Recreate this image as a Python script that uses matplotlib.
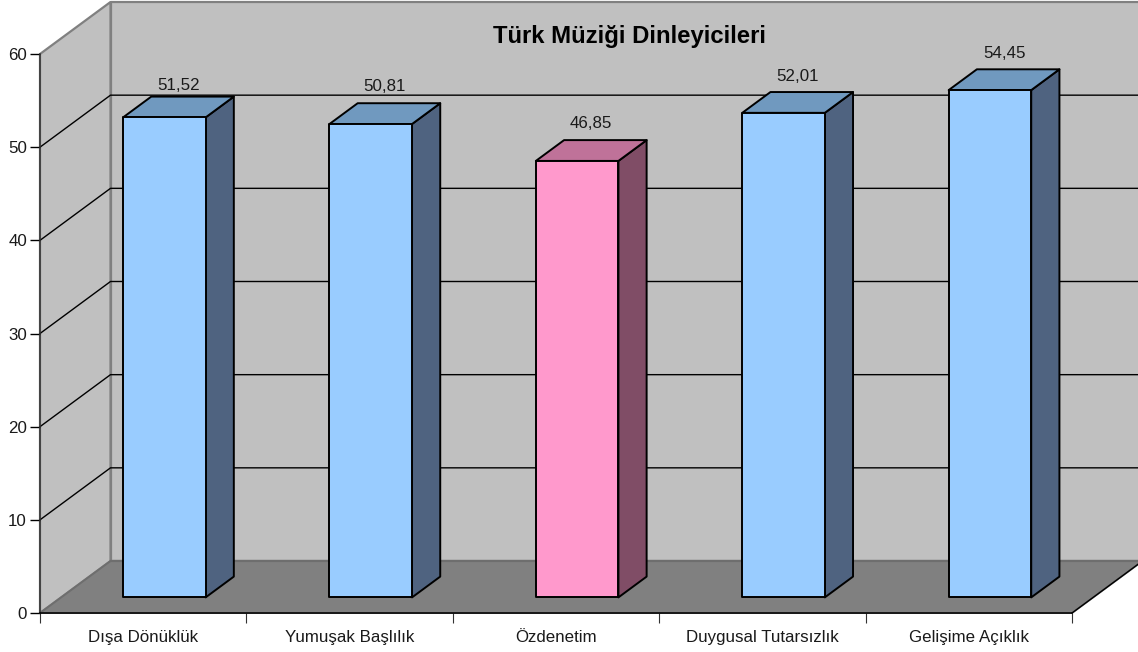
import matplotlib
matplotlib.use("Agg")
import matplotlib.pyplot as plt
from matplotlib.patches import Polygon

plt.rcParams["font.family"] = ["Liberation Sans", "DejaVu Sans"]

categories = ["Dışa Dönüklük", "Yumuşak Başlılık", "Özdenetim",
              "Duygusal Tutarsızlık", "Gelişime Açıklık"]
values = [51.52, 50.81, 46.85, 52.01, 54.45]
value_labels = ["51,52", "50,81", "46,85", "52,01", "54,45"]
label_gaps = [11, 17, 17, 15, 16]
bar_colors = [("#99CCFF", "#7099BF", "#4F6380"),
              ("#99CCFF", "#7099BF", "#4F6380"),
              ("#FF99CC", "#BF7299", "#804D66"),
              ("#99CCFF", "#7099BF", "#4F6380"),
              ("#99CCFF", "#7099BF", "#4F6380")]
y_ticks = [0, 10, 20, 30, 40, 50, 60]

W, H = 1138, 652
# plot front plane in pixels
X0, X1, Y0, Y1 = 40, 1072, 613, 54
DEPTH_X, DEPTH_Y = 70.5, 52

fig = plt.figure(figsize=(W / 100, H / 100), dpi=100)
ax = fig.add_axes([X0 / W, 1 - Y0 / H, (X1 - X0) / W, (Y0 - Y1) / H])
ax.set_xlim(0, 5)
ax.set_ylim(0, 60)
ax.patch.set_visible(False)

ux = (X1 - X0) / 5
uy = (Y0 - Y1) / 60


def pt(x, y, d=0.0):
    # d is the depth fraction: 0 at the front plane, 1 at the back wall
    return (x + d * DEPTH_X / ux, y + d * DEPTH_Y / uy)


def face(corners, color, edge="black", lw=1.4, z=2):
    ax.add_patch(Polygon(corners, closed=True, facecolor=color, edgecolor=edge,
                         linewidth=lw, joinstyle="round", clip_on=False, zorder=z))


xmax = (W - X0) / ux + 0.1

# walls and floor
face([pt(0, 0, 1), pt(xmax, 0, 1), pt(xmax, 60, 1), pt(0, 60, 1)], "#C0C0C0", "#808080", 1.6, 1)
face([pt(0, 0, 0), pt(0, 0, 1), pt(0, 60, 1), pt(0, 60, 0)], "#C0C0C0", "#808080", 1.6, 1)
face([pt(0, 0, 0), pt(5, 0, 0), pt(5, 0, 1), pt(0, 0, 1)], "#808080", "#6E6E6E", 1.4, 1)
ax.plot(*zip(pt(5, 0, 0), pt(5, 0, 1)), color="black", lw=1, clip_on=False, zorder=1.5)
ax.plot(*zip(pt(0, 0, 1), pt(xmax, 0, 1)), color="#6E6E6E", lw=1.6, clip_on=False, zorder=1.5)

# grid lines on the side and back walls
for v in y_ticks[1:-1]:
    ax.plot(*zip(pt(0, v, 0), pt(0, v, 1), pt(xmax, v, 1)), color="black", lw=1,
            clip_on=False, zorder=1.5)

# bars
for i, (v, lab, gap, cols) in enumerate(zip(values, value_labels, label_gaps, bar_colors)):
    l, r = i + 0.3, i + 0.7
    d0, d1 = 0.3, 0.7
    face([pt(r, 0, d0), pt(r, 0, d1), pt(r, v, d1), pt(r, v, d0)], cols[2])
    face([pt(l, v, d0), pt(r, v, d0), pt(r, v, d1), pt(l, v, d1)], cols[1])
    face([pt(l, 0, d0), pt(r, 0, d0), pt(r, v, d0), pt(l, v, d0)], cols[0], z=3)
    tx, ty = pt(i + 0.5, v, 0.5)
    ax.annotate(lab, (tx, ty), xytext=(0, (gap + 10.5) * 0.72), textcoords="offset points",
                ha="center", va="center", fontsize=12.2, color="#1A1A1A",
                annotation_clip=False, zorder=4)

for s in ("top", "right"):
    ax.spines[s].set_visible(False)
for s in ("left", "bottom"):
    ax.spines[s].set_linewidth(1.1)
    ax.spines[s].set_zorder(5)
ax.spines["left"].set_color("#333333")

ax.set_yticks(y_ticks)
ax.set_xticks(range(6))
ax.set_xticks([i + 0.5 for i in range(5)], minor=True)
ax.set_xticklabels([])
ax.set_xticklabels(categories, minor=True)
ax.tick_params(axis="y", length=7.2, width=1, labelsize=12.2, pad=2.2, labelcolor="#1A1A1A")
ax.tick_params(axis="x", which="major", length=7.2, width=0.8, color="#333333")
ax.tick_params(axis="x", which="minor", length=0, labelsize=12.2, pad=12, labelcolor="#1A1A1A")

fig.text(629.5 / W, 1 - 36 / H, "Türk Müziği Dinleyicileri", ha="center", va="center",
         fontsize=17.2, fontweight="bold", color="black", zorder=6)

fig.savefig("out.png", dpi=100)
